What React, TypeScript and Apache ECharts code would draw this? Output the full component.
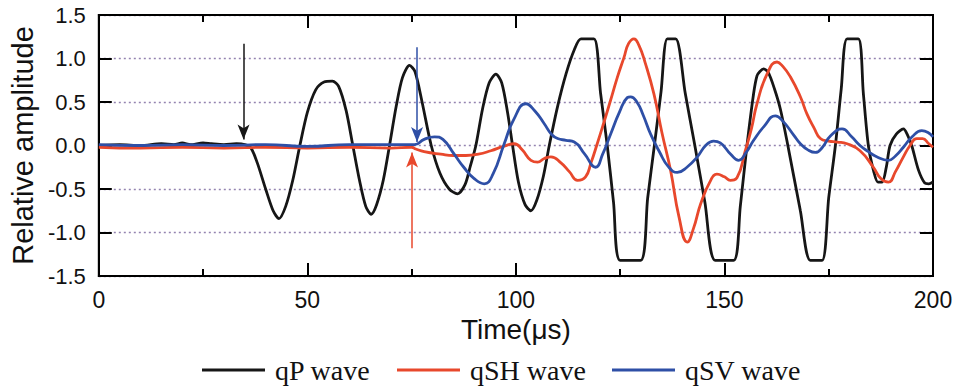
import React, { useEffect, useRef } from "react";
import * as echarts from "echarts";

// Time (µs), relative amplitude pairs
const qPWave: [number, number][] = [
  [0, 0.0], [5, 0.01], [10, 0.0], [15, 0.02], [18, 0.01], [20, 0.03], [22, 0.01], [25, 0.03], [27, 0.02],
  [30, 0.01], [33, 0.02], [35, 0.01], [36.5, -0.03], [38, -0.2], [40, -0.5], [41.8, -0.75], [43.2, -0.84],
  [44.8, -0.7], [46.5, -0.4], [48.2, 0.0], [50, 0.38], [52, 0.64], [54, 0.73], [56, 0.74], [57.5, 0.68],
  [59.3, 0.4], [60.9, 0.0], [62.5, -0.4], [64, -0.7], [65.3, -0.79], [66.6, -0.68], [68.2, -0.4], [69.7, 0.0],
  [71.3, 0.45], [72.8, 0.78], [74.5, 0.92], [75.8, 0.85], [77.5, 0.5], [79.7, 0.0], [81.8, -0.32], [84, -0.5],
  [86, -0.555], [87.8, -0.45], [89, -0.25], [90.4, 0.0], [92, 0.42], [93.6, 0.72], [95.2, 0.82], [96.6, 0.72],
  [98, 0.38], [99.2, 0.0], [100.6, -0.42], [102.2, -0.68], [103.6, -0.75], [105, -0.63], [106.6, -0.35],
  [108, 0.0], [110, 0.45], [112, 0.82], [114, 1.1], [115.6, 1.225], [118.7, 1.225], [120.3, 0.6], [121.9, 0.0],
  [123.4, -0.65], [125, -1.32], [129.9, -1.32], [131.6, -0.6], [133.2, 0.0], [134.8, 0.62], [136.3, 1.225],
  [138.3, 1.225], [140.6, 0.6], [142.9, 0.0], [145.3, -0.65], [147.8, -1.32], [152.2, -1.32], [153.8, -0.7],
  [155.4, 0.0], [157, 0.6], [157.8, 0.8], [158.5, 0.85], [159.4, 0.88], [160.5, 0.84], [162, 0.65],
  [163.4, 0.42], [165.2, 0.0], [168.2, -0.75], [170.6, -1.32], [173.4, -1.32], [175, -0.6], [176.6, 0.0],
  [178, 0.65], [179.4, 1.225], [182.1, 1.225], [183.3, 0.6], [184.5, 0.0], [185.8, -0.3], [186.8, -0.42],
  [187.8, -0.42], [188.8, -0.25], [189.7, 0.0], [191.2, 0.13], [192.9, 0.19], [193.9, 0.12], [194.9, 0.0],
  [196.5, -0.28], [198.0, -0.43], [199.0, -0.44], [200, -0.42],
];

const qSHWave: [number, number][] = [
  [0, -0.02], [10, -0.03], [20, -0.02], [30, -0.03], [40, -0.02], [50, -0.03], [60, -0.02], [70, -0.03],
  [75, -0.02], [76, -0.04], [78, -0.07], [82, -0.1], [85, -0.115], [88, -0.115], [91, -0.1], [94, -0.06],
  [97, -0.01], [99.6, 0.02], [101.5, -0.05], [103.6, -0.17], [105.2, -0.19], [106.8, -0.15], [108.4, -0.13],
  [110.8, -0.2], [112.8, -0.3], [114.8, -0.4], [116.7, -0.36], [118, -0.2], [119.5, 0.02], [121, 0.25],
  [122.7, 0.52], [124.3, 0.78], [125.9, 1.01], [127.0, 1.17], [128.3, 1.226], [129.5, 1.15], [131, 0.95],
  [133.1, 0.59], [135, 0.15], [137.1, -0.29], [139.1, -0.82], [141.1, -1.11], [142.6, -0.95], [144.3, -0.67],
  [146.7, -0.4], [148.2, -0.33], [150, -0.36], [151.4, -0.4], [153, -0.37], [155, -0.06], [156.5, 0.2],
  [157.8, 0.48], [160.2, 0.82], [162.6, 0.96], [164, 0.91], [165.8, 0.79], [168.2, 0.56], [169.8, 0.36],
  [171.5, 0.2], [173, 0.08], [175, 0.05], [177, 0.04], [179.4, 0.02], [182.5, -0.06], [185.7, -0.25],
  [187.5, -0.38], [189.3, -0.42], [191, -0.3], [192.9, -0.13], [194.5, 0.0], [196.1, 0.08], [197.5, 0.08],
  [199, 0.02], [200, -0.02],
];

const qSVWave: [number, number][] = [
  [0, 0.01], [10, 0.0], [20, 0.01], [30, 0.0], [40, 0.01], [50, -0.01], [60, 0.01], [70, 0.01], [75.7, 0.01],
  [78, 0.07], [80.5, 0.1], [82.5, 0.07], [85.2, -0.1], [87.5, -0.25], [90, -0.38], [92.4, -0.44], [94.5, -0.33],
  [97.2, 0.02], [99.5, 0.3], [102.4, 0.48], [104.5, 0.4], [106.8, 0.25], [108.5, 0.13], [110, 0.08], [112, 0.06],
  [114, 0.04], [116.5, -0.1], [119.1, -0.25], [120.8, -0.1], [122.7, 0.13], [124.8, 0.38], [126.7, 0.55],
  [127.5, 0.56], [129, 0.5], [130.5, 0.35], [132.3, 0.13], [134.5, -0.08], [136.5, -0.24], [138.7, -0.31],
  [141, -0.25], [143.5, -0.13], [145.5, 0.0], [147.4, 0.05], [149, 0.03], [151.5, -0.1], [153.4, -0.17],
  [155.2, -0.08], [157, 0.06], [159.5, 0.22], [162.2, 0.34], [164, 0.28], [166.6, 0.12], [168.2, 0.02],
  [170, -0.05], [171.8, -0.08], [173.5, -0.02], [175.4, 0.11], [178.2, 0.19], [180.5, 0.1], [182.5, 0.0],
  [184.5, -0.07], [186.5, -0.13], [189.3, -0.17], [191, -0.12], [192.9, -0.02], [195, 0.1], [197.3, 0.17],
  [198.8, 0.15], [200, 0.1],
];

// Arrival arrows: [x, yStart, yEnd]
const qPArrow = [34.7, 1.17, 0.07];
const qSVArrow = [76.3, 1.13, 0.04];
const qSHArrow = [75.1, -1.18, -0.08];

const seriesNames = ["qP wave", "qSH wave", "qSV wave"];
const seriesColors = ["#161616", "#e8482c", "#2e4fa6"];
const seriesSmooth = [0.28, 0.5, 0.5];
const legendLefts = [202, 397, 612];

const arrowLine = (a: number[], color: string) => ({
  silent: true,
  symbol: ["none", "arrow"],
  symbolSize: [9, 15],
  label: { show: false },
  lineStyle: { color, width: 1.5, type: "solid" },
  data: [[{ coord: [a[0], a[1]] }, { coord: [a[0], a[2]] }]],
});

export default function App() {
  const ref = useRef<HTMLDivElement>(null);
  useEffect(() => {
    if (!ref.current) return;
    const chart = echarts.init(ref.current, null, { renderer: "svg" });
    const axisLine = { show: true, onZero: false, lineStyle: { color: "#000", width: 2 } };
    const tick = { show: true, inside: true, length: 13, lineStyle: { color: "#000", width: 2 } };
    const minor = { show: true, splitNumber: 2, length: 7, lineStyle: { color: "#000", width: 2 } };
    const waves = [qPWave, qSHWave, qSVWave];
    const arrows = [qPArrow, qSHArrow, qSVArrow];
    chart.setOption({
      animation: false,
      backgroundColor: "#fff",
      grid: {
        left: 97,
        right: 27,
        top: 15,
        bottom: 112,
        show: true,
        borderColor: "#000",
        borderWidth: 2,
        backgroundColor: "transparent",
      },
      legend: seriesNames.map((n, i) => ({
        left: legendLefts[i],
        top: 356,
        itemWidth: 63,
        itemHeight: 14,
        padding: 0,
        data: [
          {
            name: n,
            icon: "path://M0,0 L63,0 L63,3 L0,3 Z",
            itemStyle: { color: seriesColors[i] },
          },
        ],
        textStyle: {
          fontFamily: "Liberation Serif",
          fontSize: 28,
          color: "#111",
          padding: [0, 0, 0, 5],
        },
      })),
      xAxis: [
        {
          type: "value",
          min: 0,
          max: 200,
          interval: 50,
          name: "Time(μs)",
          nameLocation: "middle",
          nameGap: 37,
          nameTextStyle: { fontFamily: "Liberation Sans", fontSize: 28, color: "#111" },
          axisLine,
          axisTick: tick,
          minorTick: minor,
          axisLabel: { fontFamily: "Liberation Sans", fontSize: 23, color: "#111", margin: 12 },
          splitLine: { show: false },
        },
        {
          type: "value",
          position: "top",
          min: 0,
          max: 200,
          interval: 50,
          axisLine,
          axisTick: tick,
          minorTick: minor,
          axisLabel: { show: false },
          splitLine: { show: false },
        },
      ],
      yAxis: [
        {
          type: "value",
          min: -1.5,
          max: 1.5,
          interval: 0.5,
          name: "Relative amplitude",
          nameLocation: "middle",
          nameGap: 59,
          nameTextStyle: { fontFamily: "Liberation Sans", fontSize: 29, color: "#111" },
          axisLine,
          axisTick: tick,
          axisLabel: {
            fontFamily: "Liberation Sans",
            fontSize: 22,
            color: "#111",
            margin: 13,
            formatter: (v: number) => v.toFixed(1),
          },
          splitLine: { show: true, lineStyle: { color: "#9484b0", width: 1.4, type: [2, 3] } },
        },
        {
          type: "value",
          position: "right",
          min: -1.5,
          max: 1.5,
          interval: 0.5,
          axisLine,
          axisTick: tick,
          axisLabel: { show: false },
          splitLine: { show: false },
        },
      ],
      series: waves.map((w, i) => ({
        name: seriesNames[i],
        type: "line",
        xAxisIndex: 0,
        yAxisIndex: 0,
        data: w,
        showSymbol: false,
        symbol: "none",
        smooth: seriesSmooth[i],
        lineStyle: { color: seriesColors[i], width: 2.8 },
        itemStyle: { color: seriesColors[i] },
        z: 2 + i,
        markLine: arrowLine(arrows[i], seriesColors[i]),
      })),
    });
    return () => chart.dispose();
  }, []);
  return <div ref={ref} style={{ width: 960, height: 388, position: "absolute", left: 0, top: 0 }} />;
}
